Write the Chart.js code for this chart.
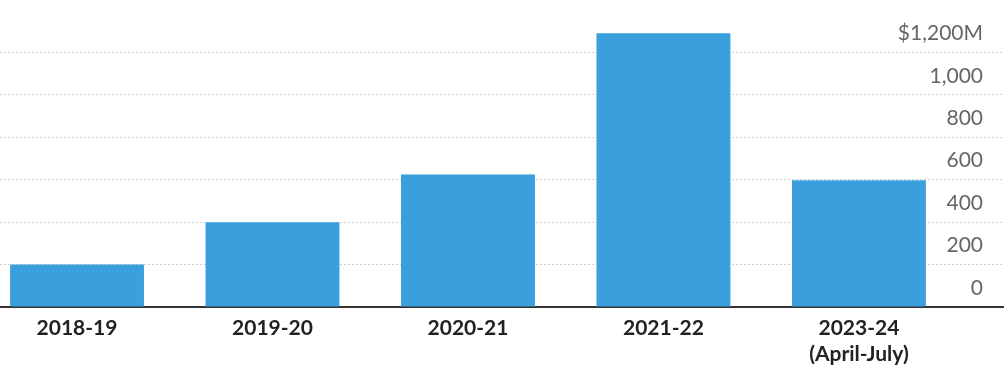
<!DOCTYPE html>
<html>
<head>
<meta charset="utf-8">
<script src="https://cdn.jsdelivr.net/npm/chart.js@4"></script>
<style>
  html, body { margin: 0; padding: 0; background: #fff; }
</style>
</head>
<body>
<canvas id="chart" width="1005" height="369"></canvas>
<script>
// data
const categories = ['2018-19', '2019-20', '2020-21', '2021-22', ['2023-24', '(April-July)']];
const values = [200, 400, 625, 1290, 598];
const yTicks = [0, 200, 400, 600, 800, 1000, 1200];
const yTickLabels = ['0', '200', '400', '600', '800', '1,000', '$1,200M'];

const chart = new Chart(document.getElementById('chart'), {
  type: 'bar',
  data: {
    datasets: [{
      data: values.map((v, i) => ({ x: i, y: v })),
      backgroundColor: '#3a9fdc',
      borderWidth: 0,
      categoryPercentage: 1,
      barPercentage: 0.685
    }]
  },
  options: {
    responsive: false,
    animation: false,
    layout: { padding: { top: 10, right: 2, bottom: 2, left: 0 } },
    plugins: { legend: { display: false }, tooltip: { enabled: false } },
    scales: {
      x: {
        type: 'linear',
        offset: false,
        min: -0.394,
        max: 4.737,
        afterBuildTicks: (scale) => { scale.ticks = categories.map((c, i) => ({ value: i })); },
        afterFit: (scale) => { scale.height = 60; },
        ticks: {
          callback: (v) => categories[v],
          color: '#222',
          padding: 9,
          font: { family: 'Lato', size: 21, weight: 'bold', lineHeight: 1.2 },
          maxRotation: 0,
          autoSkip: false
        },
        grid: { display: false, drawTicks: false },
        border: { display: true, color: '#333', width: 2 }
      },
      y: {
        position: 'right',
        min: 0,
        max: 1400,
        afterBuildTicks: (scale) => { scale.ticks = yTicks.map(v => ({ value: v })); },
        ticks: {
          mirror: true,
          padding: -20,
          labelOffset: -19,
          color: '#666',
          font: { family: 'Lato', size: 21 },
          callback: (v) => yTickLabels[yTicks.indexOf(v)]
        },
        grid: { color: '#d2d2d2', lineWidth: 1, drawTicks: false },
        border: { display: false, dash: [2, 2] }
      }
    }
  }
});
</script>
</body>
</html>
